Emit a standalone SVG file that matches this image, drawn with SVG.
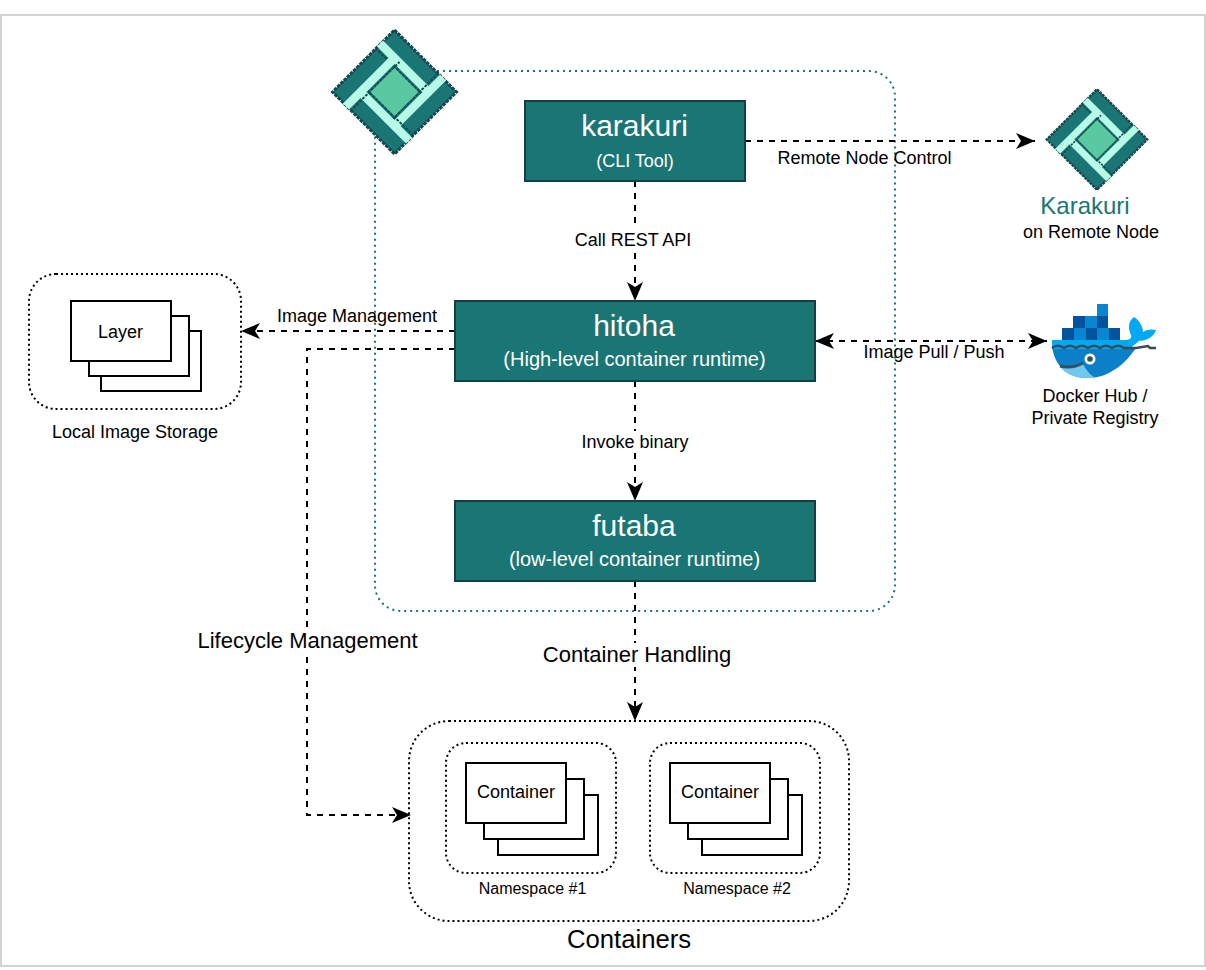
<svg xmlns="http://www.w3.org/2000/svg" xmlns:xlink="http://www.w3.org/1999/xlink" width="1206" height="970" viewBox="0 0 1206 970">
<style>
text{font-family:"Liberation Sans",Arial,sans-serif;text-anchor:middle;fill:#000}
.tb{fill:#1a7575;stroke:#133f45;stroke-width:2}
.ttl{font-size:30px;fill:#fff}
.sub{font-size:20px;fill:#fff}
.dot{fill:none;stroke:#000;stroke-width:2;stroke-dasharray:2 3}
.card{fill:#fff;stroke:#000;stroke-width:2}
.c{fill:none;stroke:#000;stroke-width:2;stroke-dasharray:6 6}
.bg{fill:#fff}
.l18{font-size:18px}
.l22{font-size:22px}
.l16{font-size:16px}
.bar{fill:#b7fbe6}
.seam{fill:none;stroke:#16474f;stroke-width:2;stroke-dasharray:2.800 1.400}
.d1{fill:#00549d}
.d2{fill:#0a85d1}
</style>
<defs>
<marker id="a" markerUnits="userSpaceOnUse" markerWidth="22" markerHeight="22" refX="19" refY="11" orient="auto-start-reverse">
<path d="M0 3 L19 11 L0 19 L5 11Z" fill="#000"/>
</marker>
<g id="arm">
<polygon class="bar" points="-17.500,-45.500 -11.500,-51.500 34.500,-5.500 28.500,0.500"/>
<path class="seam" d="M-19,-44 L30,5"/>
</g>
<g id="logo">
<polygon points="0,-62 62,0 0,62 -62,0" fill="#1a7575"/>
<polygon points="0,-62 62,0 0,62 -62,0" fill="none" stroke="#16474f" stroke-width="3" stroke-dasharray="3.500 1"/>
<use xlink:href="#arm" href="#arm"/>
<use xlink:href="#arm" href="#arm" transform="rotate(90)"/>
<use xlink:href="#arm" href="#arm" transform="rotate(180)"/>
<use xlink:href="#arm" href="#arm" transform="rotate(270)"/>
<polygon points="0,-24 24,0 0,24 -24,0" fill="#5ac8a0"/>
</g>
<g id="stack">
<rect class="card" x="30" y="30" width="100" height="60"/>
<rect class="card" x="18" y="15" width="100" height="60"/>
<rect class="card" x="0" y="0" width="100" height="60"/>
</g>
<g id="stack2">
<rect class="card" x="32" y="32" width="100" height="60"/>
<rect class="card" x="18" y="16" width="100" height="60"/>
<rect class="card" x="0" y="0" width="100" height="60"/>
</g>
</defs>
<rect x="1" y="15" width="1204" height="951" fill="#fff" stroke="#d3d3d3" stroke-width="2"/>

<g id="boundary"><rect x="375" y="71" width="520" height="540" rx="26" fill="none" stroke="#1a7575" stroke-width="2" stroke-dasharray="2 4"/></g>

<g id="connectors">
<path class="c" marker-end="url(#a)" d="M745 141H1035"/>
<path class="c" marker-end="url(#a)" d="M635 181V301"/>
<path class="c" marker-end="url(#a)" d="M455 331H241"/>
<path class="c" marker-end="url(#a)" d="M455 349H307V815H411"/>
<path class="c" marker-start="url(#a)" marker-end="url(#a)" d="M815 341H1047"/>
<path class="c" marker-end="url(#a)" d="M635 381V501"/>
<path class="c" marker-end="url(#a)" d="M635 581V721"/>
<rect class="bg" x="574" y="229" width="118" height="20"/>
<rect class="bg" x="581" y="431" width="109" height="20"/>
<rect class="bg" x="197" y="629" width="221" height="24"/>
<rect class="bg" x="542" y="643" width="190" height="24"/>
<text class="l18" x="864.500" y="164">Remote Node Control</text>
<text class="l18" x="633" y="246">Call REST API</text>
<text class="l18" x="357" y="322">Image Management</text>
<text class="l18" x="934" y="358">Image Pull / Push</text>
<text class="l18" x="635" y="448">Invoke binary</text>
<text class="l22" x="307.500" y="648">Lifecycle Management</text>
<text class="l22" x="637" y="662">Container Handling</text>
</g>

<g id="logo-main"><use xlink:href="#logo" href="#logo" transform="translate(394.500 92)"/></g>

<g id="karakuri"><rect class="tb" x="525" y="101" width="220" height="80"/>
<text class="ttl" x="634.500" y="136">karakuri</text>
<text class="l18" x="635" y="167" style="fill:#fff">(CLI Tool)</text></g>

<g id="hitoha"><rect class="tb" x="455" y="301" width="360" height="80"/>
<text class="ttl" x="634" y="336">hitoha</text>
<text class="sub" x="634.500" y="366">(High-level container runtime)</text></g>

<g id="futaba"><rect class="tb" x="455" y="501" width="360" height="80"/>
<text class="ttl" x="634" y="536">futaba</text>
<text class="sub" x="634.500" y="566">(low-level container runtime)</text></g>

<g id="remote-node"><use xlink:href="#logo" href="#logo" transform="translate(1097 139.500) scale(.81)"/>
<text x="1085" y="214" font-size="24" style="fill:#1a7575">Karakuri</text>
<text class="l18" x="1091" y="238">on Remote Node</text></g>

<g id="registry">
<path d="M1052 347H1137C1130 356 1124 364 1114 370C1105 376 1096 378 1088 378C1066 378 1055 365 1052 347Z" fill="#0b7fc8"/>
<path d="M1060 367C1068 369 1076 367 1083 364C1086 370 1090 375 1095 377.500C1092 378 1090 378 1088 378C1075 378 1066 374 1060 367Z" fill="#6fc8f0"/>
<path d="M1060 366C1068 368 1076 367 1083 363" fill="none" stroke="#33505f" stroke-width="3"/>
<path d="M1052 340H1124C1130 340 1132 338 1131 335C1128 329 1128 321 1134 317C1139 320 1143 326 1143 332C1147 329 1152 329 1156 330C1154 337 1146 341 1139 341C1134 345 1132 347 1128 349H1052Z" fill="#00a9f1"/>
<path d="M1052 348C1056 345 1060 345 1064 348C1068 345 1072 345 1076 348C1080 345 1084 345 1088 348C1092 345 1096 345 1100 348C1104 345 1108 345 1112 348C1116 345 1120 345 1124 348H1136L1148 346L1150 348H1156" fill="none" stroke="#3b4a56" stroke-width="2.500"/>
<g>
<rect class="d1" x="1062" y="328" width="12" height="12"/><rect class="d2" x="1074" y="328" width="12" height="12"/><rect class="d1" x="1086" y="328" width="11" height="12"/><rect class="d2" x="1097" y="328" width="12" height="12"/><rect class="d1" x="1109" y="328" width="11" height="12"/>
<rect class="d1" x="1073" y="316" width="12" height="12"/><rect class="d2" x="1085" y="316" width="12" height="12"/><rect class="d1" x="1097" y="316" width="11" height="12"/>
<rect class="d2" x="1097" y="304" width="11" height="12"/>
</g>
<circle cx="1090" cy="359" r="5.500" fill="#fff"/><circle cx="1090" cy="359" r="2.800" fill="#394d54"/>
<text class="l18" x="1095" y="402">Docker Hub /</text>
<text class="l18" x="1095" y="424">Private Registry</text></g>

<g id="local-storage"><rect class="dot" x="29" y="274" width="212" height="135" rx="27"/>
<use xlink:href="#stack" href="#stack" transform="translate(71 301)"/>
<text class="l18" x="120.500" y="338">Layer</text>
<text class="l18" x="135" y="438">Local Image Storage</text></g>

<g id="containers"><rect class="dot" x="409" y="721" width="440" height="200" rx="40"/>
<text x="629" y="948" font-size="25.700">Containers</text></g>

<g id="namespace-1"><rect class="dot" x="446" y="743" width="170" height="130" rx="20"/>
<use xlink:href="#stack2" href="#stack2" transform="translate(466 763)"/>
<text class="l18" x="516" y="798">Container</text>
<text class="l16" x="532.500" y="894">Namespace #1</text></g>

<g id="namespace-2"><rect class="dot" x="650" y="743" width="170" height="130" rx="20"/>
<use xlink:href="#stack2" href="#stack2" transform="translate(670 763)"/>
<text class="l18" x="720" y="798">Container</text>
<text class="l16" x="737" y="894">Namespace #2</text></g>
</svg>
